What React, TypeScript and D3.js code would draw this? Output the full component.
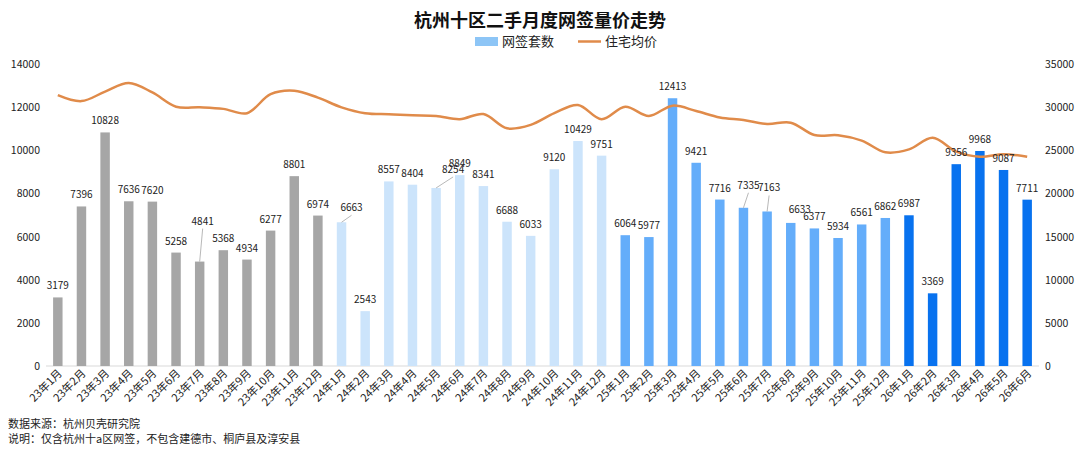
import React from "react";
import * as d3 from "d3";

// months, 23年1月 .. 26年6月
const months = [
  "23年1月", "23年2月", "23年3月", "23年4月", "23年5月", "23年6月", "23年7月", "23年8月", "23年9月", "23年10月", "23年11月", "23年12月",
  "24年1月", "24年2月", "24年3月", "24年4月", "24年5月", "24年6月", "24年7月", "24年8月", "24年9月", "24年10月", "24年11月", "24年12月",
  "25年1月", "25年2月", "25年3月", "25年4月", "25年5月", "25年6月", "25年7月", "25年8月", "25年9月", "25年10月", "25年11月", "25年12月",
  "26年1月", "26年2月", "26年3月", "26年4月", "26年5月", "26年6月",
];

// 网签套数
const volume = [
  3179, 7396, 10828, 7636, 7620, 5258, 4841, 5368, 4934, 6277, 8801, 6974,
  6663, 2543, 8557, 8404, 8254, 8849, 8341, 6688, 6033, 9120, 10429, 9751,
  6064, 5977, 12413, 9421, 7716, 7335, 7163, 6633, 6377, 5934, 6561, 6862,
  6987, 3369, 9356, 9968, 9087, 7711,
];

// 住宅均价
const price = [
  31400, 30700, 31800, 32800, 31700, 30050, 29980, 29800, 29300, 31500, 31900, 31100,
  29980, 29300, 29170, 29050, 28980, 28600, 29200, 27550, 27950, 29300, 30250, 28600,
  30050, 28980, 30170, 29550, 28800, 28500, 28050, 28200, 26770, 26740, 26120, 24770,
  25100, 26450, 24850, 24260, 24550, 24260,
];

const leftTicks = [0, 2000, 4000, 6000, 8000, 10000, 12000, 14000];
const rightTicks = [0, 5000, 10000, 15000, 20000, 25000, 30000, 35000];

const yearColors: Record<string, string> = {
  "23": "#a6a6a6",
  "24": "#cce4fb",
  "25": "#64adfa",
  "26": "#0872ef",
};

// data label nudges (dx, dy) and whether a leader line is drawn
const labelNudge: Record<string, { dx: number; dy: number; leader?: boolean }> = {
  "23年7月": { dx: 3, dy: -29, leader: true },
  "24年1月": { dx: 10, dy: -3, leader: true },
  "24年5月": { dx: 17, dy: -7, leader: true },
  "25年6月": { dx: 5, dy: -11, leader: true },
  "25年7月": { dx: 2, dy: -12, leader: true },
  "25年8月": { dx: 9, dy: -2 },
};

const W = 1080;
const H = 449;
const FONT = "'Noto Sans CJK SC', 'Noto Sans', sans-serif";
const LINE_COLOR = "#e08b4a";

const App = () => {
  const x = d3.scaleBand<string>().domain(months).range([46, 1039]).paddingInner(0.6).paddingOuter(0.3);
  const yL = d3.scaleLinear().domain([0, 14000]).range([366, 64]);
  const yR = d3.scaleLinear().domain([0, 35000]).range([366, 64]);
  const cx = (m: string) => (x(m) as number) + x.bandwidth() / 2;

  const line = d3
    .line<number>()
    .x((_, i) => cx(months[i]))
    .y((d) => yR(d))
    .curve(d3.curveCatmullRom.alpha(0.5));

  return (
    <svg width={W} height={H} style={{ position: "fixed", left: 0, top: 0, background: "#fff" }} fontFamily={FONT}>
      <text x={540} y={27} textAnchor="middle" fontSize={18} fontWeight={700} fill="#111">
        杭州十区二手月度网签量价走势
      </text>

      {/* legend */}
      <rect x={475} y={37} width={23} height={9} fill="#8dc5f6" />
      <text x={502} y={46} fontSize={13} fill="#222">网签套数</text>
      <line x1={578} x2={601} y1={41.5} y2={41.5} stroke={LINE_COLOR} strokeWidth={2.5} />
      <text x={605} y={46} fontSize={13} fill="#222">住宅均价</text>

      {/* axes labels */}
      {leftTicks.map((t) => (
        <text key={"l" + t} x={40} y={yL(t) + 4} textAnchor="end" fontSize={10.5} fill="#222">
          {t}
        </text>
      ))}
      {rightTicks.map((t) => (
        <text key={"r" + t} x={1045} y={yR(t) + 4} textAnchor="start" fontSize={10.5} fill="#222">
          {t}
        </text>
      ))}
      <line x1={46} x2={1039} y1={366} y2={366} stroke="#d9d9d9" strokeWidth={1} />

      {/* bars */}
      {months.map((m, i) => (
        <rect
          key={"b" + m}
          x={x(m)}
          y={yL(volume[i])}
          width={x.bandwidth()}
          height={366 - yL(volume[i])}
          fill={yearColors[m.slice(0, 2)]}
        />
      ))}

      {/* price line */}
      <path d={line(price) || ""} fill="none" stroke={LINE_COLOR} strokeWidth={2.5} />

      {/* bar labels */}
      {months.map((m, i) => {
        const top = yL(volume[i]);
        const n = labelNudge[m] || { dx: 0, dy: 0 };
        const lx = cx(m) + n.dx;
        const ly = top - 8 + n.dy;
        return (
          <g key={"t" + m}>
            {n.leader && (
              <line x1={cx(m)} y1={top} x2={lx} y2={ly + 4} stroke="#a6a6a6" strokeWidth={0.8} />
            )}
            <text x={lx} y={ly} textAnchor="middle" fontSize={10} fill="#222">
              {volume[i]}
            </text>
          </g>
        );
      })}

      {/* x labels */}
      {months.map((m) => (
        <text
          key={"x" + m}
          transform={`translate(${cx(m) + 5},${374}) rotate(-45)`}
          textAnchor="end"
          fontSize={11}
          fill="#222"
        >
          {m}
        </text>
      ))}

      <text x={8} y={428} fontSize={11} fill="#222">数据来源：杭州贝壳研究院</text>
      <text x={8} y={443} fontSize={11} fill="#222">说明：仅含杭州十a区网签，不包含建德市、桐庐县及淳安县</text>
    </svg>
  );
};

export default App;
